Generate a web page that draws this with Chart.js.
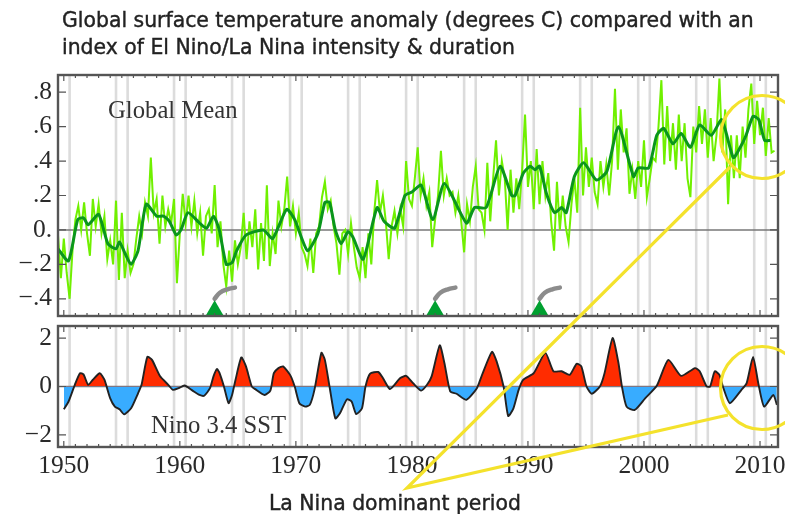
<!DOCTYPE html>
<html>
<head>
<meta charset="utf-8">
<title>Global surface temperature anomaly and Nino 3.4</title>
<script src="https://cdn.jsdelivr.net/npm/chart.js@4"></script>
<style>
  html, body { margin: 0; padding: 0; background: #fff; }
  #page { position: relative; width: 785px; height: 514px; overflow: hidden; filter: blur(0.5px); }
  canvas { position: absolute; left: 0; }
  #top { top: 60px; }
  #bottom { top: 320px; }
  .label { position: absolute; white-space: nowrap; color: #333; }
  .serif { font-family: "Liberation Serif", serif; font-size: 24.7px; }
  .sans { font-family: "DejaVu Sans", sans-serif; font-size: 20.4px; color: #222; -webkit-text-stroke: 0.4px #222; }
  svg { position: absolute; left: 0; top: 0; pointer-events: none; }
</style>
</head>
<body>
<div id="page">
  <div class="label sans" style="left:62px;top:8px">Global surface temperature anomaly (degrees C) compared with an</div>
  <div class="label sans" style="left:62px;top:35px">index of El Nino/La Nina intensity &amp; duration</div>
  <canvas id="top" width="785" height="260"></canvas>
  <canvas id="bottom" width="785" height="194"></canvas>
  <div class="label serif" style="left:108px;top:96px">Global Mean</div>
  <div class="label serif" style="left:151px;top:411px">Nino 3.4 SST</div>
  <div class="label sans" style="left:269px;top:491px">La Nina dominant period</div>
  <svg width="785" height="514" fill="none" stroke="#f4e22c" stroke-width="3.2">
    <circle cx="762" cy="137" r="41.5"></circle>
    <circle cx="762" cy="388" r="41.5"></circle>
    <polyline points="730,167 407,488 728,415"></polyline>
  </svg>
</div>
<script>
const xMin = 1949.5;
const xMax = 2011.55;
const yearTicks = [1950, 1960, 1970, 1980, 1990, 2000, 2010];
const anomalyTicks = [0.8, 0.6, 0.4, 0.2, 0, -0.2, -0.4];
const anomalyLabels = ['.8', '.6', '.4', '.2', '0.', '\u2212.2', '\u2212.4'];
const ninoTicks = [2, 0, -2];
const ninoLabels = ['2', '0', '\u22122'];

// grey marks, one pair every ten years
const grayYears = [1950.5, 1954.5, 1955.5, 1959.5, 1960.5, 1964.5, 1965.5, 1969.5, 1970.5, 1974.5, 1975.5,
  1979.5, 1980.5, 1984.5, 1985.5, 1989.5, 1990.5, 1994.5, 1995.5, 1999.5, 2000.5, 2004.5, 2005.5, 2009.5, 2010.5];

const volcanoYears = [1963, 1982, 1991];
const plumeOffsets = [0, 0.45, 1.1, 1.75];
const plumeValues = [-0.4, -0.365, -0.345, -0.335];

// light green, read about four times a year from 1949.5 on
const rawStart = 1949.5;
const rawAnomaly = [
  -.03, -.28,
  -.05, -.25, -.40, -.12,
  .06, .14, .0, .16,
  -.02, -.15, .18, .02,
  .15, -.02, .08, -.17,
  -.06, -.2, .17, -.29,
  .1, -.28, -.12, -.25,
  -.2, -.05, .08, -.02,
  .16, .08, .42, .1,
  .18, -.08, .2, .02,
  .12, .04, .18, -.31,
  -.02, .21, .04, .2,
  .02, .17, -.02, .1,
  -.15, .08, .12, -.02,
  .26, -.1, .05, -.2,
  -.33, -.12, -.3, -.06,
  -.2, -.1, .1, -.17,
  .05, -.1, .12, -.23,
  .04, -.18, .26, -.21,
  -.02, -.14, .17, .02,
  .12, .31, .02, .14,
  -.02, .1, -.1, -.14,
  -.21, -.05, -.25, -.02,
  .02, .19, .28, .12,
  .17, .02, -.08, -.26,
  -.02, 0, -.14, .04,
  -.1, -.22, -.28, -.1,
  -.28, -.02, -.2, .1,
  .29, .1, .2, .05,
  -.17, .02, .11, -.02,
  .12, .02, .4, .18,
  .14, .3, .48, .2,
  .3, .14, .22, -.1,
  .06, .2, .46, .2,
  .3, .2, .22, .1,
  .2, .05, -.13, .15,
  .05, .25, .37, .12,
  .1, 0, .39, .05,
  .3, .52, .2, .4,
  .3, 0, .35, .1,
  .3, .12, .35, .67,
  .25, .4, .12, .47,
  .15, .4, .2, .33,
  .05, -.12, .28, 0,
  .2, .02, -.07, .15,
  .3, .1, .71, .2,
  .48, .25, .42, .22,
  .15, .4, .25, .38,
  .2, .4, .82, .35,
  .7, .45, .59, .21,
  .35, .18, .4, .25,
  .52, .19, .3, .42,
  .4, .6, .87, .38,
  .72, .4, .62, .35,
  .67, .4, .62, .3,
  .19, .6, .45, .72,
  .5, .7, .42, .65,
  .4, .55, .88, .45,
  .7, .15, .55, .3,
  .55, .3, .6, .42,
  .7, .85, .5, .75,
  .55, .71, .43, .65,
  .45, .46
];

const meanYears = [1949.5, 1950.4, 1951.2, 1951.7, 1952.1, 1953, 1953.8, 1954.5, 1954.8, 1955.3, 1955.8, 1956.4, 1957.1,
  1958, 1958.6, 1959.1, 1959.7, 1960.1, 1960.7, 1961.7, 1962.3, 1962.9, 1963.4, 1964, 1964.5, 1964.9, 1965.7, 1967.2,
  1968, 1969.2, 1969.9, 1971, 1971.9, 1972.5, 1972.9, 1973.4, 1973.9, 1974.5, 1974.9, 1975.8, 1977, 1977.6, 1978.5,
  1979.4, 1980, 1980.8, 1981.8, 1982.8, 1984.7, 1985.4, 1986.4, 1987.6, 1988.6, 1988.9, 1989.6, 1990.2, 1990.6, 1991,
  1991.6, 1992.3, 1992.9, 1993.3, 1994, 1994.8, 1995.9, 1996.8, 1997.8, 1999.1, 1999.5, 2000.4, 2001.1, 2001.7, 2002.5,
  2003.2, 2004, 2004.8, 2005.8, 2006.7, 2007.7, 2008.3, 2008.8, 2009.4, 2009.9, 2010.4, 2010.9];
const meanValues = [-.11, -.18, .06, .07, .03, .09, -.08, -.11, -.07, -.14, -.2, -.12, .15,
  .08, .08, .05, -.03, 0, .1, .04, .01, .08, 0, -.2, -.19, -.12, -.03, 0,
  -.05, .12, .06, -.12, -.02, .16, .16, 0, -.08, -.01, -.04, -.17, .13, .05, .01,
  .2, .22, .26, .06, .27, .04, .13, .13, .37, .2, .2, .33, .37, .35, .37,
  .21, .1, .13, .1, .31, .39, .29, .34, .6, .31, .36, .36, .55, .59, .5,
  .56, .48, .61, .55, .64, .42, .48, .55, .66, .64, .52, .52];

const ninoYears = [1950, 1950.4, 1950.95, 1951.4, 1951.7, 1952.1, 1952.5, 1953.1, 1953.5, 1954, 1954.4, 1954.8, 1955.2,
  1955.8, 1956.4, 1956.7, 1957.2, 1957.6, 1958.3, 1959, 1959.4, 1959.9, 1960.4, 1961.1, 1961.7, 1962.1, 1962.6, 1962.9,
  1963.2, 1963.4, 1963.8, 1964.2, 1964.5, 1964.8, 1965.3, 1965.7, 1966.2, 1966.5, 1967.3, 1967.8, 1968.1, 1968.5, 1968.9,
  1969.5, 1969.9, 1970.3, 1970.8, 1971.2, 1971.6, 1972.2, 1972.5, 1972.9, 1973.4, 1973.8, 1974.4, 1974.8, 1975.2, 1975.7,
  1976, 1976.4, 1977.1, 1977.5, 1978.1, 1978.5, 1979, 1979.5, 1980.1, 1980.8, 1981.3, 1981.7, 1982.4, 1982.8, 1983.3,
  1983.85, 1984.7, 1985.6, 1986, 1986.9, 1987.3, 1987.9, 1988.3, 1988.75, 1989.2, 1989.6, 1990.5, 1991.5, 1992.2, 1992.9,
  1993.6, 1994.2, 1994.6, 1995.05, 1995.5, 1996.2, 1996.6, 1997.3, 1997.8, 1998.1, 1998.5, 1999.2, 2000.1, 2001.1, 2002.1,
  2003.2, 2004.4, 2004.8, 2005.4, 2005.7, 2006.1, 2006.5, 2006.8, 2007.4, 2008.4, 2008.85, 2009.4, 2009.85, 2010.35,
  2011.15, 2011.45];
const ninoValues = [-.94, -.63, .07, .55, .5, .07, .28, .55, .28, -.49, -.83, -.94, -1.15,
  -.9, -.28, .07, 1.22, 1.1, .42, .07, -.14, -.07, .04, -.17, -.35, -.38, -.07, .42,
  .72, .58, 0, -.69, -.35, .28, 1.2, .83, 0, -.11, -.35, -.17, .55, .76, .83,
  .48, 0, -.69, -.83, -.76, -.14, 1.39, 1.1, 0, -1.32, -1.11, -.53, -.62, -1.14, -.9,
  0, .53, .6, .35, -.11, .07, .35, .44, .14, -.17, .07, .42, 1.7, .97, -.2,
  -.3, -.55, -.07, .42, 1.43, 1.04, 0, -1.22, -.9, -.14, .28, .55, 1.39, .63, .63,
  .48, .94, .83, 0, -.3, 0, .55, 2.0, .97, 0, -.83, -.97, -.49, .03, 1.1,
  .44, .76, .63, 0, 0, .63, .48, 0, -.69, -.14, .14, 1.22, .14, -.83,
  -.35, -.76];

function grayLines(yMin, yMax) {
  return grayYears.map(year => ({
    data: [{ x: year, y: yMin }, { x: year, y: yMax }],
    borderColor: '#dcdcdc',
    borderWidth: 2.6,
    pointRadius: 0,
    order: 10
  }));
}

function zeroLine() {
  return {
    data: [{ x: xMin, y: 0 }, { x: xMax, y: 0 }],
    borderColor: '#777',
    borderWidth: 1.4,
    pointRadius: 0,
    order: 5
  };
}

function volcanoSets() {
  const sets = [];
  volcanoYears.forEach(year => {
    sets.push({
      data: plumeOffsets.map((dx, i) => ({ x: year + dx, y: plumeValues[i] })),
      borderColor: '#8c8c8c',
      borderWidth: 4.5,
      borderCapStyle: 'round',
      tension: 0.4,
      pointRadius: 0,
      order: 2
    });
    sets.push({
      data: [{ x: year, y: -0.472 }],
      pointStyle: 'triangle',
      pointRadius: 11,
      pointBackgroundColor: '#00a030',
      pointBorderWidth: 0,
      showLine: false,
      order: 1
    });
  });
  return sets;
}

// ticks point inward and the frame is on all four sides
const framePlugin = {
  id: 'frame',
  afterDraw(chart) {
    const { ctx, chartArea: a, scales } = chart;
    ctx.save();
    ctx.strokeStyle = '#555';
    ctx.lineWidth = 1.2;
    ctx.beginPath();
    for (let year = 1950; year <= 2011; year++) {
      const px = scales.x.getPixelForValue(year);
      const len = year % 10 === 0 ? 6 : 3;
      ctx.moveTo(px, a.top); ctx.lineTo(px, a.top + len);
      ctx.moveTo(px, a.bottom); ctx.lineTo(px, a.bottom - len);
    }
    scales.y.ticks.forEach(t => {
      const py = scales.y.getPixelForValue(t.value);
      ctx.moveTo(a.left, py); ctx.lineTo(a.left + 8, py);
      ctx.moveTo(a.right, py); ctx.lineTo(a.right - 8, py);
    });
    ctx.stroke();
    ctx.lineWidth = 2.4;
    ctx.strokeRect(a.left, a.top, a.right - a.left, a.bottom - a.top);
    ctx.restore();
  }
};

function noPadding(scale) {
  scale.paddingLeft = 0;
  scale.paddingRight = 0;
  scale.paddingTop = 0;
  scale.paddingBottom = 0;
}

function makeOptions(yMin, yMax, yTicks, yLabels, xAxisHeight, padding, showYears) {
  return {
    responsive: false,
    animation: false,
    devicePixelRatio: 1,
    layout: { autoPadding: false, padding: padding },
    plugins: { legend: { display: false }, tooltip: { enabled: false } },
    scales: {
      x: {
        type: 'linear',
        min: xMin,
        max: xMax,
        border: { display: false },
        grid: { display: false, drawTicks: false },
        afterBuildTicks: scale => { scale.ticks = yearTicks.map(v => ({ value: v })); },
        afterFit: scale => { scale.height = xAxisHeight; noPadding(scale); },
        ticks: {
          display: showYears,
          autoSkip: false,
          maxRotation: 0,
          padding: 4,
          color: '#2a2a2a',
          font: { family: 'Liberation Serif', size: 25.5 },
          callback: v => String(v)
        }
      },
      y: {
        min: yMin,
        max: yMax,
        border: { display: false },
        grid: { display: false, drawTicks: false },
        afterBuildTicks: scale => { scale.ticks = yTicks.map(v => ({ value: v })); },
        afterFit: scale => { scale.width = 58; noPadding(scale); },
        ticks: {
          autoSkip: false,
          padding: 6,
          color: '#2a2a2a',
          font: { family: 'Liberation Serif', size: 25.5 },
          callback: v => yLabels[yTicks.indexOf(v)]
        }
      }
    }
  };
}

new Chart(document.getElementById('top'), {
  type: 'line',
  data: {
    datasets: [
      ...grayLines(-0.5, 0.9),
      zeroLine(),
      ...volcanoSets(),
      {
        data: rawAnomaly.map((v, i) => ({ x: rawStart + i * 0.25, y: v })),
        borderColor: '#70f000',
        borderWidth: 2,
        pointRadius: 0,
        order: 4
      },
      {
        data: meanYears.map((year, i) => ({ x: year, y: meanValues[i] })),
        borderColor: '#0a961c',
        borderWidth: 3,
        tension: 0.2,
        pointRadius: 0,
        order: 3
      }
    ]
  },
  options: makeOptions(-0.5, 0.9, anomalyTicks, anomalyLabels, 0, { top: 15, right: 7, bottom: 4, left: 0 }, false),
  plugins: [framePlugin]
});

new Chart(document.getElementById('bottom'), {
  type: 'line',
  data: {
    datasets: [
      ...grayLines(-2.5, 2.5),
      zeroLine(),
      {
        data: ninoYears.map((year, i) => ({ x: year, y: ninoValues[i] })),
        borderColor: '#222',
        borderWidth: 1.9,
        tension: 0.2,
        pointRadius: 0,
        fill: { target: { value: 0 }, above: '#ff2c00', below: '#38acff' },
        order: 3
      }
    ]
  },
  options: makeOptions(-2.5, 2.5, ninoTicks, ninoLabels, 60, { top: 6, right: 7, bottom: 7, left: 0 }, true),
  plugins: [framePlugin]
});
</script>
</body>
</html>
